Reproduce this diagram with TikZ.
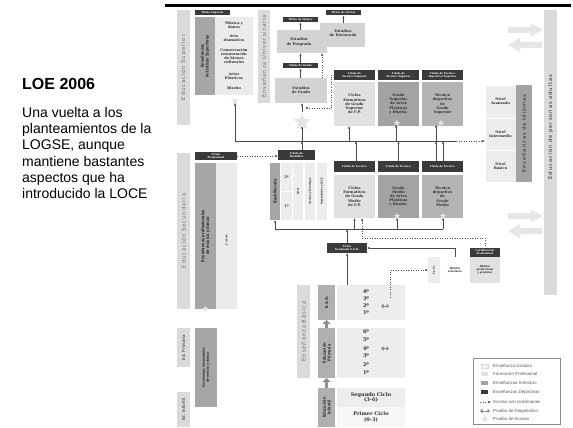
\documentclass[tikz,border=0pt]{standalone}
\usepackage{fontspec}
\setmainfont{Liberation Sans}
\newfontfamily\serifb{DejaVu Serif}
\newfontfamily\sidefont[LetterSpace=18]{DejaVu Sans}
\newfontfamily\condfont[FakeStretch=0.85]{DejaVu Sans}
\usetikzlibrary{arrows.meta,shapes.geometric}
\definecolor{sidec}{HTML}{DADADA}
\definecolor{sidetxt}{HTML}{6A6A6A}
\definecolor{artc}{HTML}{A6A6A6}
\definecolor{lightc}{HTML}{EBEBEB}
\definecolor{fpc}{HTML}{E1E1E1}
\definecolor{apc}{HTML}{A3A3A3}
\definecolor{depc}{HTML}{B4B4B4}
\definecolor{ttlc}{HTML}{3A3A3A}
\definecolor{estc}{HTML}{D3D3D3}
\definecolor{lblc}{HTML}{B0B0B0}
\definecolor{rowc}{HTML}{EDEDED}
\definecolor{linec}{HTML}{4A4A4A}
\definecolor{starc}{HTML}{E3E3E3}
\definecolor{txtc}{HTML}{2E2E2E}
\definecolor{thickc}{HTML}{8E8E8E}
\definecolor{diagc}{HTML}{8A8A8A}
\definecolor{bigc}{HTML}{E6E6E6}
\definecolor{legc}{HTML}{8A8A8A}
\definecolor{legtxt}{HTML}{555555}
\definecolor{gratc}{HTML}{F0F0F0}
\newcommand{\fTtl}{\serifb\bfseries\fontsize{2.6}{3.1}\selectfont}
\newcommand{\fItem}{\serifb\bfseries\fontsize{3.6}{4.2}\selectfont}
\newcommand{\fRow}{\serifb\bfseries\fontsize{5}{5.8}\selectfont}
\newcommand{\fSide}{\sidefont\fontsize{5.2}{6}\selectfont}
\newcommand{\fLbl}{\condfont\bfseries\fontsize{4.2}{4.8}\selectfont}
\newcommand{\fTiny}{\condfont\bfseries\fontsize{2.6}{3}\selectfont}
\newcommand{\fLeg}{\fontsize{4.4}{5}\selectfont}
\tikzset{
 rb/.style={rectangle, anchor=north west, inner sep=0pt, outer sep=0pt, draw=none, align=center},
 sidebar/.style={rb, fill=sidec},
 artbar/.style={rb, fill=artc},
 ttl/.style={rb, fill=ttlc, text=white, font=\fTtl},
 bxt/.style={font=\fItem, text=txtc},
 sidetext/.style={rotate=90, inner sep=0pt, font=\fSide, text=sidetxt},
 rlabel/.style={rotate=90, inner sep=0pt, align=center, font=\fLbl, text=txtc},
 rtiny/.style={rotate=90, inner sep=0pt, align=center, font=\fTiny, text=txtc},
 itm/.style={inner sep=0pt, align=center, font=\fItem, text=txtc},
 rowlab/.style={inner sep=0pt, font=\fRow, text=txtc},
 ln/.style={draw=linec, line width=0.5pt},
 conn/.style={ln, -{Latex[length=2.6pt,width=2.2pt]}},
 cond/.style={conn, dotted},
 starmark/.style={star, star points=5, star point ratio=2.4, fill=starc, draw=none, inner sep=0pt, minimum size=#1},
 starmark/.default=8pt,
 thickarr/.style={line width=3pt, draw=thickc, -{Triangle[length=4pt,width=8pt]}},
 diagarr/.style={line width=1pt, draw=diagc, {Triangle[length=2.5pt,width=4.5pt]}-{Triangle[length=2.5pt,width=4.5pt]}},
 bigarr/.style={fill=bigc},
 legt/.style={anchor=west, inner sep=0pt, font=\fLeg, text=legtxt},
}
\begin{document}
\begin{tikzpicture}[x=1pt,y=-1pt]
\useasboundingbox (0,0) rectangle (573,428);
% top bar
\fill[black] (165,4) rectangle (571,7.5);
% left text
\node[anchor=north west, inner sep=0pt, font=\bfseries\fontsize{16}{19}\selectfont] (loe) at (22,78) {LOE 2006};
\node[anchor=north west, inner sep=0pt, align=left, font=\fontsize{14}{16.3}\selectfont] (desc) at (22,107) {Una vuelta a los\\planteamientos de la\\LOGSE, aunque\\mantiene bastantes\\aspectos que ha\\introducido la LOCE};

% ---------- Educación Superior ----------
\node[sidebar, minimum width=13pt, minimum height=115pt] (edsup) at (177,10) {};
\node[sidetext] (edsupt) at (edsup.center) {Educación Superior};
\node[ttl, minimum width=35pt, minimum height=5.5pt] (tsup) at (195,10) {Título Superior};
\node[artbar, minimum width=20pt, minimum height=78pt] (easup) at (195,17) {};
\node[rlabel] (easupt) at (easup.center) {Enseñanzas\\Artísticas Superiores};
\node[rb, fill=lightc, minimum width=38pt, minimum height=78pt] (easupc) at (215,17) {};
\node[itm] (imd) at (234,25) {Música y\\danza};
\node[itm] (iad) at (234,38) {Arte\\dramático};
\node[itm] (icr) at (234,56) {Conservación\\restauración\\de bienes\\culturales};
\node[itm] (iap) at (234,76) {Artes\\Plásticas};
\node[itm] (idi) at (234,88) {Diseño};
\node[starmark=8pt] (stsup) at (235,101) {};

% ---------- Universitaria ----------
\node[sidebar, minimum width=12pt, minimum height=93pt] (euni) at (258,10) {};
\node[sidetext] (eunit) at (euni.center) {Enseñanza Universitaria};
\node[ttl, minimum width=35pt, minimum height=5.5pt] (tmaster) at (283,17) {Título de Máster};
\node[ttl, minimum width=35pt, minimum height=5.5pt] (tdoctor) at (326,10) {Título de Doctor};
\node[rb, fill=estc, minimum width=50pt, minimum height=23pt] (posg) at (277,30) {};
\node[rb, fill=estc, minimum width=45pt, minimum height=24pt] (doct) at (320,23) {};
\node[itm] (posgt) at (299,42) {Estudios\\de Posgrado};
\node[itm] (doctt) at (343,33) {Estudios\\de Doctorado};
\node[ttl, minimum width=35pt, minimum height=5.5pt] (tgrado) at (283,63) {Título de Grado};
\node[rb, bxt, fill=estc, minimum width=52pt, minimum height=25pt] (grado) at (275,78) {Estudios\\de Grado};
\draw[conn] (grado.north -| tgrado.south) -- (tgrado.south);
\draw[conn] (tgrado.north) -- (tgrado.north |- posg.south);
\draw[conn] (posg.north -| tmaster.south) -- (tmaster.south);
\draw[conn] (doct.north -| tdoctor.south) -- (tdoctor.south);
\draw[cond] ([xshift=21pt]grado.north) -- ([xshift=21pt]grado.north |- posg.south);

% ---------- Técnico Superior row ----------
\node[ttl, minimum width=41pt, minimum height=10pt] (tts1) at (334,70) {Título de\\Técnico Superior};
\node[rb, bxt, fill=fpc, minimum width=41pt, minimum height=44pt] (cfgs) at (334,82) {Ciclos\\Formativos\\de Grado\\Superior\\de F.P.};
\node[ttl, minimum width=41pt, minimum height=10pt] (tts2) at (378,70) {Título de\\Técnico Superior};
\node[rb, bxt, fill=apc, minimum width=41pt, minimum height=44pt] (apgs) at (378,82) {Grado\\Superior\\de Artes\\Plásticas\\y Diseño.};
\node[ttl, minimum width=41pt, minimum height=10pt] (ttds) at (422,70) {Título de Técnico\\Deportivo Superior};
\node[rb, bxt, fill=depc, minimum width=41pt, minimum height=44pt] (tdgs) at (422,82) {Técnico\\deportivo\\de\\Grado\\Superior};
\node[starmark=7pt] (st2) at (397,123) {};
\node[starmark=7pt] (st3) at (441,123) {};

% ---------- Idiomas ----------
\node[rb, bxt, fill=rowc, draw=white, line width=0.5pt, minimum width=31pt, minimum height=33pt] (idav) at (485,85) {Nivel\\Avanzado};
\node[rb, bxt, fill=rowc, draw=white, line width=0.5pt, minimum width=31pt, minimum height=32pt] (idint) at (485,118) {Nivel\\Intermedio};
\node[rb, bxt, fill=rowc, draw=white, line width=0.5pt, minimum width=31pt, minimum height=32pt] (idbas) at (485,150) {Nivel\\Básico};
\node[rb, fill=apc, minimum width=16pt, minimum height=97pt] (idlab) at (516,85) {};
\node[sidetext, text=txtc] (idlabt) at (idlab.center) {Enseñanzas de Idiomas};

% ---------- Adultos ----------
\node[sidebar, minimum width=13pt, minimum height=285pt] (adult) at (544,10) {};
\node[sidetext, text=txtc] (adultt) at (550.5,127) {Educación de personas adultas};
\fill[bigarr] (508,27) -- (531,27) -- (531,23.5) -- (543,30) -- (531,36.5) -- (531,33) -- (508,33) -- cycle;
\fill[bigarr] (542,42) -- (520,42) -- (520,38) -- (508,45) -- (520,52) -- (520,48) -- (542,48) -- cycle;
\fill[bigarr] (508,213) -- (531,213) -- (531,209.5) -- (543,216) -- (531,222.5) -- (531,219) -- (508,219) -- cycle;
\fill[bigarr] (542,228) -- (520,228) -- (520,224) -- (508,231) -- (520,238) -- (520,234) -- (542,234) -- cycle;

% ---------- horizontal line 1 ----------
\coordinate (h1a) at (235,141);
\coordinate (h1b) at (456,141);
\draw[ln] (h1a) -- (h1b);
\draw[cond] (h1b) -- (idint.west |- h1b);
\draw[conn] (h1a) -- (stsup.south);
\draw[conn] ([xshift=-5.5pt]cfgs.south |- h1a) -- ([xshift=-5.5pt]cfgs.south);
\draw[conn] ([xshift=-1pt]st2.south |- h1a) -- ([xshift=-1pt]st2.south);
\draw[conn] ([xshift=-5pt]st3.south |- h1a) -- ([xshift=-5pt]st3.south);

% ---------- Bachillerato ----------
\node[ttl, minimum width=37pt, minimum height=10pt] (tbach) at (278,150) {Título de\\Bachiller};
\node[starmark=18pt] (stbig) at (302,122) {};
\draw[conn] ([xshift=5.5pt]tbach.north) -- ([xshift=5.5pt]tbach.north |- h1a);
\draw[conn] (stbig.south |- h1a) -- (stbig.south);
\draw[conn] (stbig.north) -- (stbig.north |- grado.south);
\coordinate (gin) at (305,108);
\draw[cond] (tts1.west) -- ++(-3,0) |- (gin);
\node[ttl, minimum width=42pt, minimum height=8pt] (tprof) at (195,152) {Título\\Profesional};
\draw[cond] (tprof.east) -- (tbach.west |- tprof.east);
\node[rb, fill=artc, minimum width=10pt, minimum height=57pt] (bach) at (270,163) {};
\node[rlabel] (bacht) at (bach.center) {Bachillerato};
\node[rb, fill=rowc, font=\fItem, text=txtc, minimum width=11pt, minimum height=28pt] (b2) at (281,163) {2º};
\node[rb, fill=rowc, font=\fItem, text=txtc, minimum width=11pt, minimum height=28pt] (b1) at (281,192) {1º};
\node[rb, fill=rowc, minimum width=10pt, minimum height=57pt] (bart) at (293,163) {};
\node[rtiny] (bartt) at (bart.center) {Artes};
\node[rb, fill=rowc, minimum width=10pt, minimum height=57pt] (bcyt) at (305,163) {};
\node[rtiny] (bcytt) at (bcyt.center) {Ciencias y Tecnología};
\node[rb, fill=rowc, minimum width=10pt, minimum height=57pt] (bhcs) at (317,163) {};
\node[rtiny] (bhcst) at (bhcs.center) {Humanidades y CCSS};

% ---------- Técnico row ----------
\node[ttl, minimum width=41pt, minimum height=11pt] (tt1) at (334,161) {Título de Técnico};
\node[ttl, minimum width=41pt, minimum height=11pt] (tt2) at (378,161) {Título de Técnico};
\node[ttl, minimum width=41pt, minimum height=11pt] (tt3) at (422,161) {Título de Técnico};
\node[rb, bxt, fill=fpc, minimum width=41pt, minimum height=43pt] (cfgm) at (334,175) {Ciclos\\Formativos\\de Grado\\Medio\\de F.P.};
\node[rb, bxt, fill=apc, minimum width=41pt, minimum height=43pt] (apgm) at (378,175) {Grado\\Medio\\de Artes\\Plásticas\\y Diseño.};
\node[rb, bxt, fill=depc, minimum width=41pt, minimum height=43pt] (tdgm) at (422,175) {Técnico\\deportivo\\de\\Grado\\Medio};
\node[starmark=7pt] (st4) at (397,216) {};
\node[starmark=7pt] (st5) at (443,216) {};
\draw[conn] ([xshift=1.5pt]tt1.north) -- ([xshift=1.5pt]tt1.north |- h1a);
\draw[conn] (tt2.north) -- (tt2.north |- h1a);
\draw[conn] ([xshift=-6.5pt]tt3.north) -- ([xshift=-6.5pt]tt3.north |- h1a);
\draw[conn] ([xshift=0.5pt]tt3.north) -- ([xshift=0.5pt]tt3.north |- h1a);

% ---------- horizontal line 2 ----------
\coordinate (h2a) at (275,229);
\coordinate (h2b) at (443,229);
\draw[ln] (h2a) -- (h2b);
\draw[conn] (bach.south |- h2a) -- (bach.south);
\draw[conn] (cfgm.south |- h2a) -- (cfgm.south);
\draw[conn] (st4.south |- h2a) -- (st4.south);
\draw[conn] (st5.south |- h2a) -- (st5.south);
\node[ttl, minimum width=40pt, minimum height=10pt] (tgeso) at (327,243) {Título\\Graduado E.S.O.};
\draw[conn] (tgeso.north) -- (tgeso.north |- h2a);

% ---------- PCPI ----------
\node[rb, fill=rowc, minimum width=12pt, minimum height=26pt] (pcpi) at (428,257) {};
\node[rtiny] (pcpit) at (pcpi.center) {P.C.P.I.};
\node[rb, fill=white, font=\fTiny, text=txtc, minimum width=30pt, minimum height=26pt] (modvol) at (440,257) {Módulos\\voluntarios};
\node[rb, fill=fpc, font=\fTiny, text=txtc, minimum width=30pt, minimum height=26pt] (modprof) at (470,257) {Módulos\\profesionales\\y generales};
\node[ttl, minimum width=30pt, minimum height=8.5pt] (tcert) at (470,248) {Certificación\\Profesional};
\draw[conn] (modvol.north) |- (tgeso.east);
\coordinate (dotc) at (362,238);
\draw[cond] (tcert.north) |- (dotc) -- (dotc |- cfgm.south);

% ---------- Secundaria / artísticas ----------
\node[sidebar, minimum width=13pt, minimum height=156pt] (edsec) at (177,153) {};
\node[sidetext] (edsect) at (edsec.center) {Educación Secundaria};
\node[artbar, minimum width=21pt, minimum height=146pt] (epmd) at (195,163) {};
\node[rlabel] (epmdt) at (epmd.center) {Enseñanzas profesionales\\de música y danza};
\node[rb, fill=lightc, minimum width=21pt, minimum height=146pt] (epmdc) at (216,163) {};
\node[rtiny] (epmdct) at (226.5,240) {6 cursos};
\node[starmark=7pt] (st6) at (205.5,309) {};
\node[sidebar, minimum width=13pt, minimum height=39pt] (edprim) at (177,328) {};
\node[rlabel, text=sidetxt] (edprimt) at (edprim.center) {Ed. Primaria};
\node[sidebar, minimum width=13pt, minimum height=35pt] (edinf) at (177,392) {};
\node[rlabel, text=sidetxt] (edinft) at (edinf.center) {Ed. Infantil};
\node[artbar, minimum width=22pt, minimum height=79pt] (eemd) at (195,328) {};
\node[rlabel, font=\condfont\bfseries\fontsize{3.4}{4}\selectfont] (eemdt) at (eemd.center) {Enseñanzas elementales\\de música y danza};

% ---------- Enseñanza Básica ----------
\node[sidebar, minimum width=13pt, minimum height=93pt] (ebas) at (297,285) {};
\node[sidetext] (ebast) at (ebas.center) {Enseñanza Básica};
\node[rb, fill=lblc, minimum width=17pt, minimum height=35pt] (eso) at (318,285) {};
\node[rlabel] (esot) at (eso.center) {E.S.O.};
\node[rb, fill=rowc, minimum width=68pt, minimum height=35pt] (esor) at (337,285) {};
\node[rowlab] (e4) at (366,292) {4º};
\node[rowlab] (e3) at (366,299) {3º};
\node[rowlab] (e2) at (366,306) {2º};
\node[rowlab] (e1) at (366,313) {1º};
\node[rb, fill=lblc, minimum width=17pt, minimum height=50pt] (prim) at (318,328) {};
\node[rlabel] (primt) at (prim.center) {Educación\\Primaria};
\node[rb, fill=rowc, minimum width=68pt, minimum height=50pt] (primr) at (337,328) {};
\node[rowlab] (p6) at (366,332) {6º};
\node[rowlab] (p5) at (366,340) {5º};
\node[rowlab] (p4) at (366,348.5) {4º};
\node[rowlab] (p3) at (366,356) {3º};
\node[rowlab] (p2) at (366,365) {2º};
\node[rowlab] (p1) at (366,373) {1º};
\node[rb, fill=lblc, minimum width=17pt, minimum height=39pt] (inf) at (318,388) {};
\node[rlabel] (inft) at (inf.center) {Educación\\Infantil};
\node[rb, fill=rowc, font=\fRow, text=txtc, minimum width=68pt, minimum height=19pt] (inf2) at (337,388) {Segundo Ciclo\\(3-6)};
\node[rb, fill=white!97!black, font=\fRow, text=txtc, minimum width=68pt, minimum height=20pt] (inf1) at (337,407) {Primer Ciclo\\(0-3)};
\draw[thickarr] (prim.north) -- (eso.south);
\draw[thickarr] (inf.north) -- (prim.south);
\draw[conn] (tgeso.south |- esor.north) -- (tgeso.south);
\coordinate (esod) at (390,297);
\draw[cond] (esod) |- (pcpi.west);
\coordinate (dg1a) at (381,306); \coordinate (dg1b) at (389,306);
\coordinate (dg2a) at (381,348.5); \coordinate (dg2b) at (389,348.5);
\draw[diagarr] (dg1a) -- (dg1b);
\draw[diagarr] (dg2a) -- (dg2b);

% ---------- Legend ----------
\node[rb, draw=legc, line width=0.4pt, minimum width=87pt, minimum height=66pt] (leg) at (473,358) {};
\node[rb, fill=gratc, draw=white!85!black, line width=0.2pt, minimum width=7pt, minimum height=4.5pt] (lg1) at (481,363.75) {};
\node[legt] (lt1) at (493,366) {Enseñanza Gratuita};
\node[rb, fill=fpc, minimum width=7pt, minimum height=4.5pt] (lg2) at (481,371.75) {};
\node[legt] (lt2) at (493,374) {Formación Profesional};
\node[rb, fill=apc, minimum width=7pt, minimum height=4.5pt] (lg3) at (481,380.75) {};
\node[legt] (lt3) at (493,383) {Enseñanzas Artísticas};
\node[rb, fill=ttlc, minimum width=7pt, minimum height=4.5pt] (lg4) at (481,389.75) {};
\node[legt] (lt4) at (493,392) {Enseñanzas Deportivas};
\coordinate (lg5a) at (480,402); \coordinate (lg5b) at (491,402);
\draw[cond] (lg5a) -- (lg5b);
\node[legt] (lt5) at (493,402) {Acceso con condiciones};
\coordinate (lg6a) at (480,411); \coordinate (lg6b) at (490,411);
\draw[diagarr] (lg6a) -- (lg6b);
\node[legt] (lt6) at (493,411) {Prueba de Diagnóstico};
\node[starmark=8pt] (lg7) at (485,419) {};
\node[legt] (lt7) at (493,419) {Prueba de Acceso};
\end{tikzpicture}
\end{document}
